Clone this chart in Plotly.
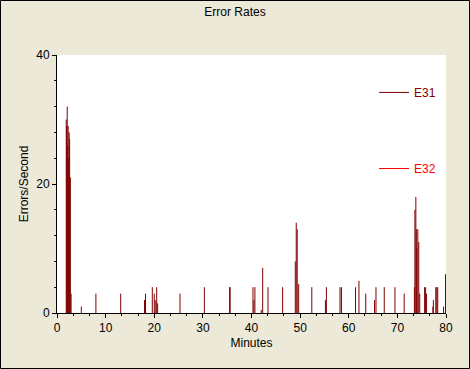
import plotly.graph_objects as go

# ---- data ----
e31_minutes = [1.9, 2.0, 2.1, 2.2, 2.3, 2.4, 2.5, 2.6, 2.75, 2.9, 5.0, 8.0, 13.1,
               18.0, 18.2, 19.6, 20.0, 20.2, 20.5, 20.7, 25.3, 30.3, 35.5, 35.6,
               40.3, 40.5, 40.7, 42.0, 42.3, 43.4, 46.4, 49.0, 49.2, 49.4, 49.7,
               52.4, 55.2, 55.4, 58.2, 58.5, 61.4, 62.1, 63.5, 65.3, 65.6, 67.3,
               69.5, 71.4, 73.5, 73.6, 73.8, 73.9, 74.0, 74.2, 74.4, 74.6, 75.6,
               75.8, 76.0, 77.3, 77.4, 77.9, 78.1, 78.3, 79.5, 79.9]
e31_rates = [30, 29, 32, 26, 29, 24, 28, 27, 21, 3, 1, 3, 3,
             2, 3, 4, 3, 2, 4, 1.5, 3, 4, 4, 4,
             4, 2, 4, 0.5, 7, 4, 4, 8, 14, 13, 4.5,
             4, 2, 4, 4, 4, 4, 5, 3, 2, 4, 4,
             4, 3, 4, 16, 18, 13, 10, 13, 11, 3, 4,
             4, 3, 1, 2, 4, 4, 4, 1, 6]
e32_minutes = [0, 80]
e32_rates = [0, 0]

y_ticks = [0, 20, 40]
x_ticks = [0, 10, 20, 30, 40, 50, 60, 70, 80]

FONT = "Liberation Sans, Arial, sans-serif"


def spikes(xs, ys):
    px, py = [], []
    for x, y in zip(xs, ys):
        px += [x, x, None]
        py += [0, y, None]
    return px, py


fig = go.Figure()
sx, sy = spikes(e31_minutes, e31_rates)
fig.add_trace(go.Scatter(x=sx, y=sy, mode="lines", name="E31",
                         line=dict(color="#800000", width=1),
                         legend="legend", showlegend=True, hoverinfo="skip"))
sx2, sy2 = spikes(e32_minutes, e32_rates)
fig.add_trace(go.Scatter(x=sx2, y=sy2, mode="lines", name="E32",
                         line=dict(color="#ff0000", width=1),
                         legend="legend2", showlegend=True, hoverinfo="skip"))

fig.update_layout(
    width=470, height=369,
    showlegend=True,
    paper_bgcolor="#ECE9D8", plot_bgcolor="#ffffff",
    margin=dict(l=57, r=24, t=55, b=56),
    font=dict(family=FONT, size=12, color="#000000"),
    title=dict(text="Error Rates", x=0.5, xanchor="center",
               y=1 - 12 / 369, yanchor="middle", yref="container",
               font=dict(size=12)),
    legend=dict(x=0.815, y=0.855, xanchor="left", yanchor="middle",
                bgcolor="rgba(0,0,0,0)", font=dict(color="#800000", size=12),
                itemwidth=30),
    legend2=dict(x=0.815, y=0.56, xanchor="left", yanchor="middle",
                 bgcolor="rgba(0,0,0,0)", font=dict(color="#ff0000", size=12),
                 itemwidth=30),
    shapes=[dict(type="rect", xref="paper", yref="paper", x0=-56.5 / 389,
                 x1=1 + 23.5 / 389, y0=-55.5 / 258, y1=1 + 54.5 / 258,
                 line=dict(color="#000000", width=1))],
    xaxis=dict(range=[0, 80], tickvals=x_ticks, ticks="outside", ticklen=4,
               tickcolor="#000", showline=True, linecolor="#000", linewidth=1,
               showgrid=False, zeroline=False, tickfont=dict(size=12),
               minor=dict(dtick=10 / 3, ticks="outside", ticklen=2,
                          tickcolor="#000"),
               title=dict(text="Minutes", standoff=4, font=dict(size=12))),
    yaxis=dict(range=[0, 40], tickvals=y_ticks, ticks="outside", ticklen=4,
               tickcolor="#000", showline=True, linecolor="#000", linewidth=1,
               showgrid=False, zeroline=False, tickfont=dict(size=12),
               minor=dict(dtick=4, ticks="outside", ticklen=2,
                          tickcolor="#000"),
               title=dict(text="Errors/Second", standoff=5, font=dict(size=12))),
)

fig.write_html("out.html", config={"displayModeBar": False},
               post_script="document.body.style.margin='0';")
